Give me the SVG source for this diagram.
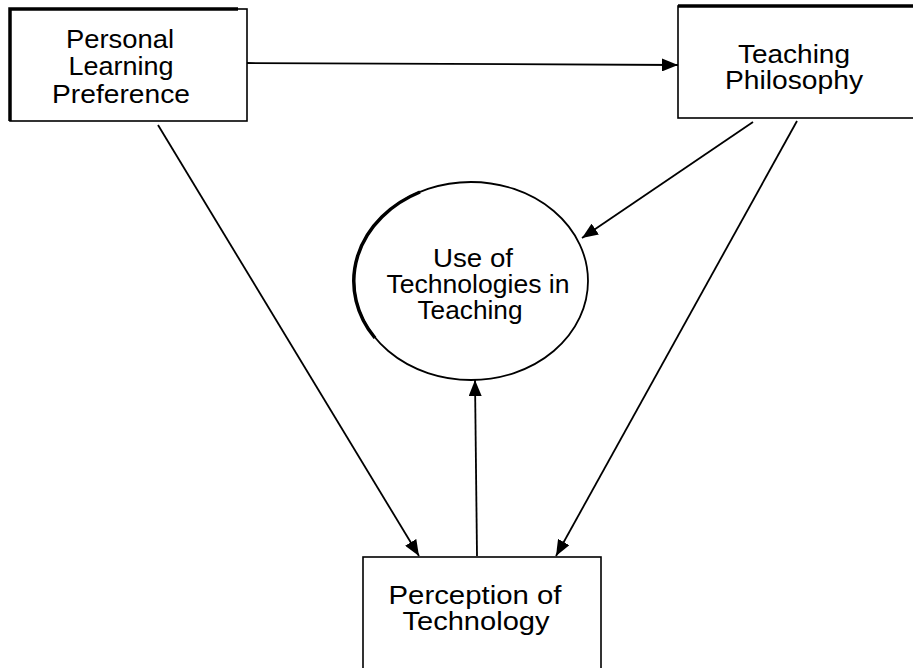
<svg xmlns="http://www.w3.org/2000/svg" width="913" height="668" viewBox="0 0 913 668">
<style>
.box{fill:#fff;stroke:#000;stroke-width:1.6}
.thick{fill:none;stroke:#000;stroke-width:3.5}
.lbl{font-family:"Liberation Sans",Arial,sans-serif;font-size:25px;fill:#000;text-anchor:middle}
.conn line{stroke:#000;stroke-width:1.8;marker-end:url(#ah)}
</style>
<defs>
<marker id="ah" viewBox="0 0 16 13" refX="16" refY="6.5" markerWidth="16" markerHeight="13" markerUnits="userSpaceOnUse" orient="auto">
<path d="M0,0 L16,6.5 L0,13 Z" fill="#000"/>
</marker>
</defs>
<rect width="913" height="668" fill="#fff"/>
<g id="personal-learning-preference">
<rect class="box" x="10" y="9" width="237" height="112"/>
<path class="thick" d="M10,121 L10,9 L238,9"/>
<text class="lbl" x="120" y="48" textLength="108" lengthAdjust="spacingAndGlyphs">Personal</text>
<text class="lbl" x="121" y="75" textLength="105" lengthAdjust="spacingAndGlyphs">Learning</text>
<text class="lbl" x="121" y="103" textLength="138" lengthAdjust="spacingAndGlyphs">Preference</text>
</g>
<g id="teaching-philosophy">
<rect class="box" x="678" y="6" width="240" height="112"/>
<path class="thick" d="M678,6 L913,6"/>
<text class="lbl" x="794" y="63" textLength="112" lengthAdjust="spacingAndGlyphs">Teaching</text>
<text class="lbl" x="794" y="89" textLength="138" lengthAdjust="spacingAndGlyphs">Philosophy</text>
</g>
<g id="use-of-technologies">
<ellipse cx="471" cy="281" rx="117" ry="99" fill="#fff" stroke="#000" stroke-width="1.8"/>
<path class="thick" d="M420,192 A117,99 0 0 0 375,338"/>
<text class="lbl" x="473" y="267" textLength="80" lengthAdjust="spacingAndGlyphs">Use of</text>
<text class="lbl" x="478" y="293" textLength="183" lengthAdjust="spacingAndGlyphs">Technologies in</text>
<text class="lbl" x="470" y="319" textLength="105" lengthAdjust="spacingAndGlyphs">Teaching</text>
</g>
<g id="perception-of-technology">
<rect class="box" x="363" y="557" width="238" height="120"/>
<text class="lbl" x="475" y="604" textLength="173" lengthAdjust="spacingAndGlyphs">Perception of</text>
<text class="lbl" x="476" y="630" textLength="147" lengthAdjust="spacingAndGlyphs">Technology</text>
</g>
<g id="connectors" class="conn">
<line x1="247" y1="63" x2="678" y2="65"/>
<line x1="158" y1="125" x2="419" y2="556"/>
<line x1="753" y1="122" x2="582" y2="238"/>
<line x1="797" y1="121" x2="556" y2="556"/>
<line x1="477" y1="556" x2="475" y2="380"/>
</g>
</svg>
